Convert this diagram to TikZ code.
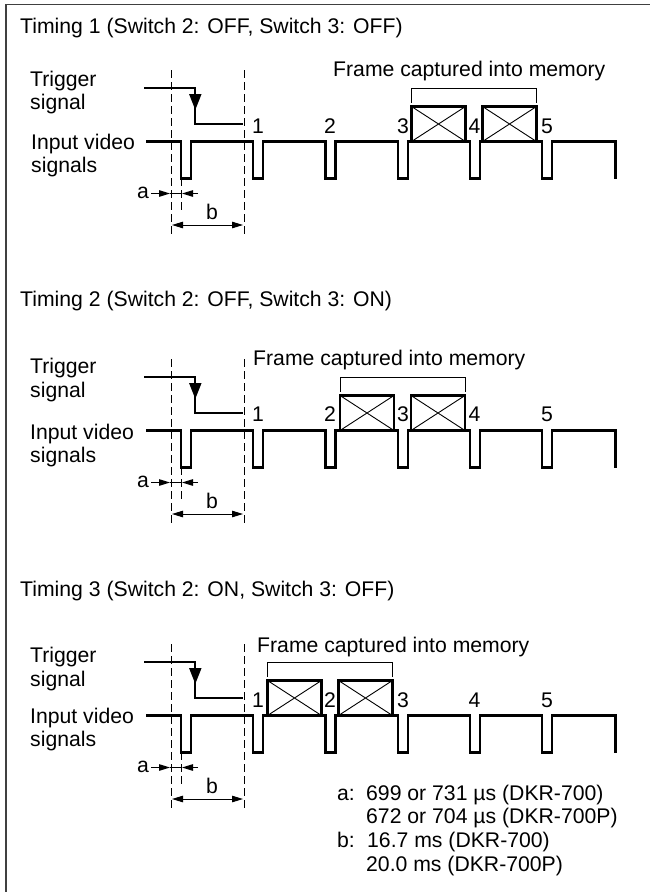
\documentclass[tikz,border=0pt]{standalone}
\usepackage{fontspec}
\setmainfont{Liberation Sans}
\usetikzlibrary{arrows.meta,positioning}

\begin{document}
\begin{tikzpicture}[
  x=1pt,y=-1pt,
  every node/.style={font=\fontsize{21.2}{24}\selectfont},
  txt/.style={anchor=base west,inner sep=0pt},
  num/.style={anchor=base,inner sep=0pt},
  frameline/.style={draw=black!75,line width=1.4pt},
  wave/.style={line width=2.3pt,miter limit=10},
  guide/.style={line width=1pt,dash pattern=on 8pt off 4pt},
  bracket/.style={line width=0.9pt},
  trigtip/.style={-{Triangle[length=16pt,width=12pt]},line width=2pt},
  dim/.style={{Triangle[length=11pt,width=6.5pt]}-{Triangle[length=11pt,width=6.5pt]},line width=1pt},
  dimtip/.style={-{Triangle[length=11pt,width=6.5pt]},line width=1pt},
  capture/.style={rectangle,draw,line width=2.3pt,inner sep=0pt,outer sep=0pt,minimum width=54pt,minimum height=35pt,anchor=south west,
    path picture={\draw[line width=0.9pt] (path picture bounding box.north west) -- (path picture bounding box.south east)
      (path picture bounding box.south west) -- (path picture bounding box.north east);}},
  timing/.pic={
    \coordinate (trigA) at (144,88);
    \coordinate (trigB) at (195.3,88);
    \coordinate (trigC) at (195.3,124);
    \coordinate (trigD) at (243,124);
    \coordinate (trigE) at (195.3,110);
    \draw[wave] (trigA) -- (trigB) -- (trigC) -- (trigD);
    \draw[trigtip] (trigB) -- (trigE);
    \draw[wave] (146,141.5) -| (181,178.5) -| (191,141.5) -| (253,178.5) -| (263,141.5) -| (325.5,178.5) -| (335.5,141.5)
      -| (397.7,178.5) -| (407.7,141.5) -| (470,178.5) -| (480,141.5) -| (542,178.5) -| (552,141.5) -| (615.5,178.5);
    \draw[guide] (171,70) -- (171,237);
    \draw[guide] (244,70) -- (244,237);
    \draw[guide] (181,178) -- (181,210);
    \node[num] (lblA) at (143,198) {a};
    \node[num] (lblB) at (212,219) {b};
    \coordinate (aL) at (151,193.5);
    \coordinate (aM) at (170,193.5);
    \coordinate (aN) at (182,193.5);
    \coordinate (aR) at (198,193.5);
    \coordinate (bL) at (172,225);
    \coordinate (bR) at (243,225);
    \draw[dimtip] (aL) -- (aM);
    \draw[dimtip] (aR) -- (aN);
    \draw[line width=1pt] (aM) -- (aN);
    \draw[dim] (bL) -- (bR);
  }
]
\useasboundingbox (0,0) rectangle (650,892);
\draw[frameline] (650,4.5) -- (6,4.5) -- (6,892);

% first timing
\node[txt] (title1) at (20,33) {Timing 1 (Switch 2: OFF, Switch 3: OFF)};
\node[txt] (trig1) at (30,86) {Trigger};
\node[txt] (trigs1) at (30,109) {signal};
\node[txt] (input1) at (31,149) {Input video};
\node[txt] (inputs1) at (31,172) {signals};
\pic (p1) at (0,0) {timing};
\foreach \n/\x in {1/258,2/330,3/403,4/474.5,5/547}
  \node[num] (d1\n) at (\x,133) {\n};
\node[txt] (mem1) at (333,76) {Frame captured into memory};
\node[capture] (c1a) at (411.5,141.5) {};
\node[capture,right=17pt of c1a] (c1b) {};
\draw[bracket] ([yshift=4pt]c1a.north west) |- ([yshift=18pt]c1b.north east) -- ([yshift=4pt]c1b.north east);

% second timing
\node[txt] (title2) at (20,306) {Timing 2 (Switch 2: OFF, Switch 3: ON)};
\node[txt] (trig2) at (30,373) {Trigger};
\node[txt] (trigs2) at (30,397) {signal};
\node[txt] (input2) at (30,439) {Input video};
\node[txt] (inputs2) at (30,462) {signals};
\pic (p2) at (0,289) {timing};
\foreach \n/\x in {1/258,2/330,3/403,4/474.5,5/547}
  \node[num] (d2\n) at (\x,421) {\n};
\node[txt] (mem2) at (253,365) {Frame captured into memory};
\node[capture] (c2a) at (340,430.5) {};
\node[capture,right=17pt of c2a] (c2b) {};
\draw[bracket] ([yshift=4pt]c2a.north west) |- ([yshift=18pt]c2b.north east) -- ([yshift=4pt]c2b.north east);

% third timing
\node[txt] (title3) at (20,596) {Timing 3 (Switch 2: ON, Switch 3: OFF)};
\node[txt] (trig3) at (30,662) {Trigger};
\node[txt] (trigs3) at (30,686) {signal};
\node[txt] (input3) at (30,723) {Input video};
\node[txt] (inputs3) at (30,746) {signals};
\pic (p3) at (0,574) {timing};
\foreach \n/\x in {1/258,2/330,3/403,4/474.5,5/547}
  \node[num] (d3\n) at (\x,707) {\n};
\node[txt] (mem3) at (257,652) {Frame captured into memory};
\node[capture] (c3a) at (267.5,715.5) {};
\node[capture,right=17pt of c3a] (c3b) {};
\draw[bracket] ([yshift=4pt]c3a.north west) |- ([yshift=18pt]c3b.north east) -- ([yshift=4pt]c3b.north east);

% legend
\node[txt] (keyA) at (337,800) {a:};
\node[txt] (keyA1) at (366,800) {699 or 731 µs (DKR-700)};
\node[txt] (keyA2) at (366,823) {672 or 704 µs (DKR-700P)};
\node[txt] (keyB) at (337,847) {b:};
\node[txt] (keyB1) at (367,847) {16.7 ms (DKR-700)};
\node[txt] (keyB2) at (366,871) {20.0 ms (DKR-700P)};
\end{tikzpicture}
\end{document}
